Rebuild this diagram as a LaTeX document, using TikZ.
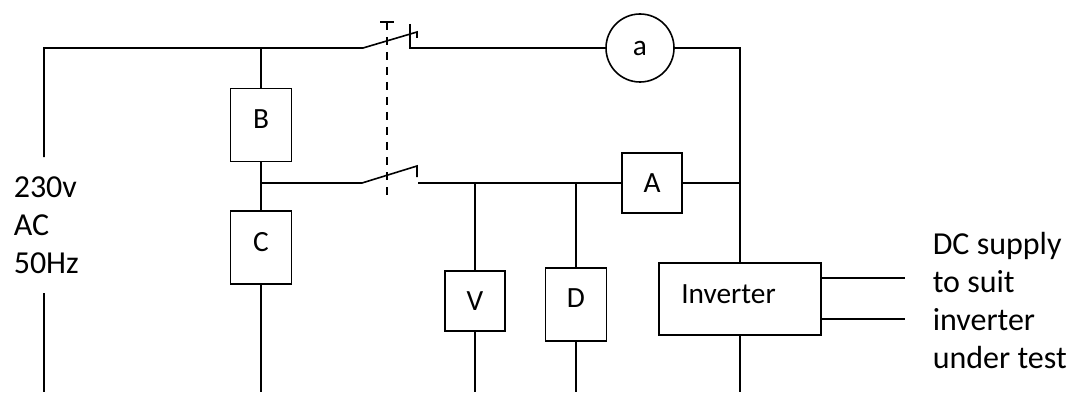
\documentclass[tikz,border=0pt]{standalone}
\usepackage{fontspec}
\setmainfont{Carlito}
\usepackage{tikz}

\begin{document}
\begin{tikzpicture}[x=0.75pt, y=-0.75pt, line width=1.2pt,
  unit/.style={draw, minimum width=45.75pt, minimum height=54.75pt, text depth=9pt, font=\fontsize{22}{26}\selectfont},
  meter/.style={draw, line width=1.8pt, minimum width=45pt, minimum height=45pt, font=\fontsize{22}{26}\selectfont},
  side/.style={align=left, anchor=base west, inner sep=0pt, font=\fontsize{24}{28.5}\selectfont}]
  \useasboundingbox (0,0) rectangle (1069,392);
  \coordinate (tl) at (44,48);
  \coordinate (srcT) at (44,157);
  \coordinate (srcB) at (44,293);
  \coordinate (bot) at (0,392);
  \coordinate (s1a) at (363,48);
  \coordinate (s1b) at (417,32);
  \coordinate (s1k) at (410,24);
  \coordinate (s1c) at (410,48);
  \coordinate (s2a) at (362,183);
  \coordinate (s2b) at (417,166);
  \coordinate (s2c) at (418,183);
  \coordinate (tr) at (740,48);
  \coordinate (lk1) at (387,22);
  \coordinate (lk2) at (387,198);
  \coordinate (dc1) at (905,278);
  \coordinate (dc2) at (905,319);

  \node[unit] (B) at (261,125) {B};
  \node[unit] (C) at (261,247.5) {C};
  \node[unit] (D) at (576,304.5) {D};
  \node[meter] (A) at (652,183) {A};
  \node[meter] (V) at (475,301) {V};
  \node[draw, circle, minimum size=51pt, inner sep=0pt, font=\fontsize{22}{26}\selectfont] (a) at (640,48) {a};
  \node[draw, minimum width=121.5pt, minimum height=54pt, text width=88pt, inner xsep=16.75pt, align=left, text depth=8pt,
    font=\fontsize{22}{26}\selectfont] (inv) at (740,299) {Inverter};
  \node[side] (mains) at (13,273) {230v\\AC\\50Hz};
  \node[side] (dc) at (932,368) {DC supply\\to suit\\inverter\\under test};

  \draw (srcT) -- (tl) -- (s1a) -- (s1b) -- ++(0,6);
  \draw (s1k) -- (s1c) -- (a);
  \draw (a) -- (tr) -- (inv);
  \draw (B.north |- tl) -- (B);
  \draw (B) -- (C);
  \draw (B.south |- s2a) -- (s2a) -- (s2b) -- ++(0,11);
  \draw (s2c) -- (A);
  \draw (A) -- (A -| tr);
  \draw (V.north |- s2c) -- (V);
  \draw (D.north |- s2c) -- (D);
  \draw (C) -- (C |- bot);
  \draw (V) -- (V |- bot);
  \draw (D) -- (D |- bot);
  \draw (inv) -- (inv |- bot);
  \draw (srcB) -- (srcB |- bot);
  \draw (inv.east |- dc1) -- (dc1);
  \draw (inv.east |- dc2) -- (dc2);
  \draw[dash pattern=on 6pt off 5.25pt] (lk1) -- (lk2);
  \draw (lk1) ++(-7,0) -- ++(14,0);
\end{tikzpicture}
\end{document}
